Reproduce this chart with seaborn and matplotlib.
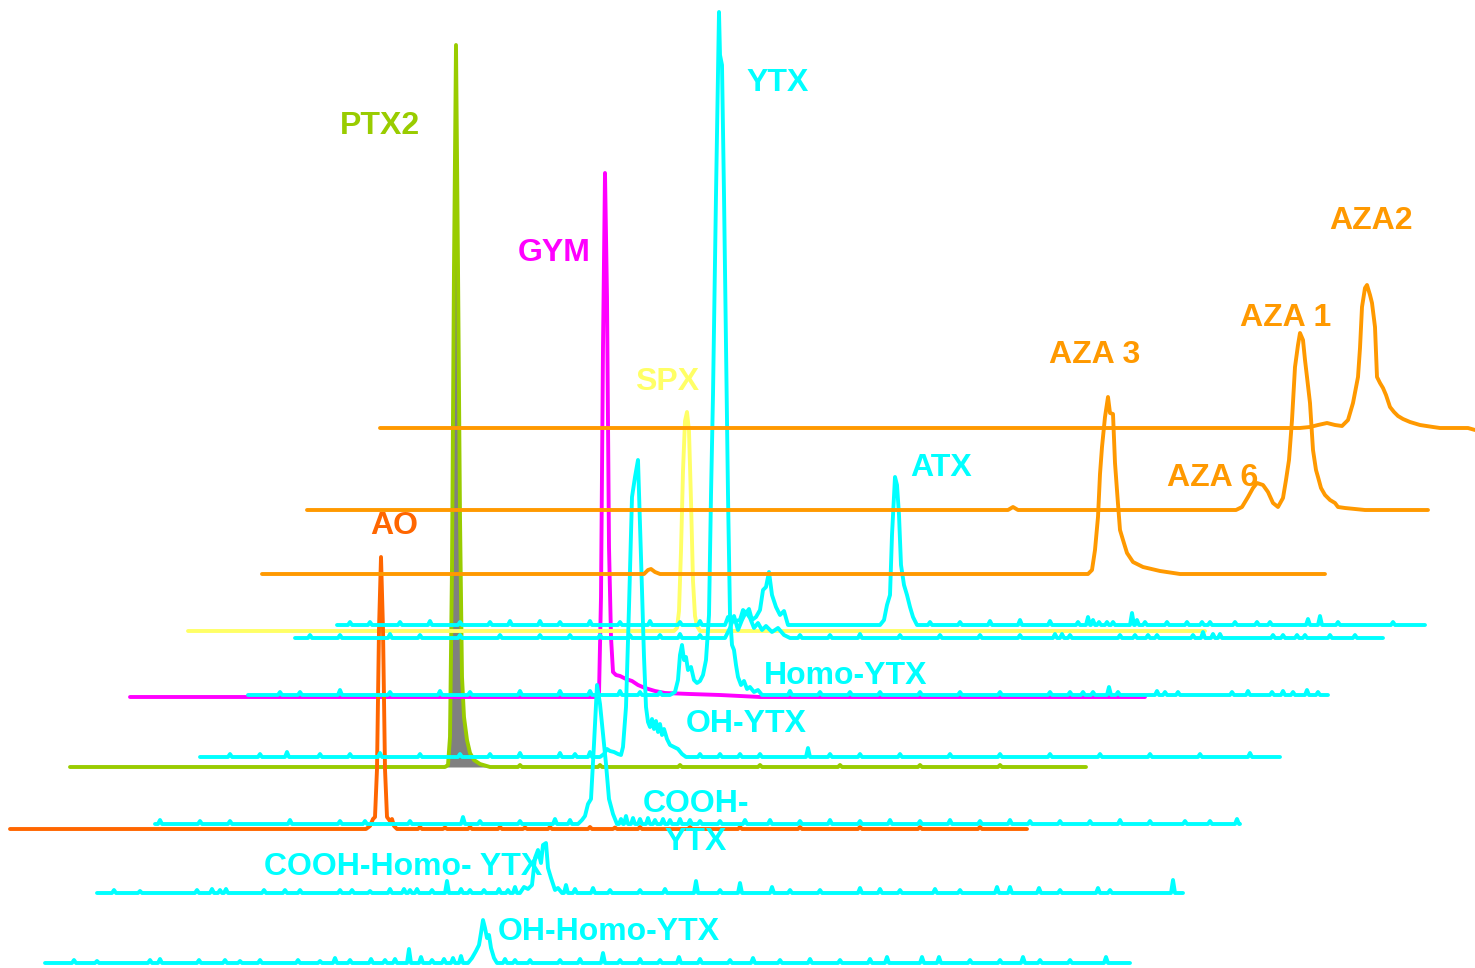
import matplotlib
matplotlib.use("Agg")
import matplotlib.pyplot as plt
import numpy as np
import pandas as pd
import seaborn as sns

sns.set_theme(style="white")
plt.rcParams["font.family"] = ["Liberation Sans", "DejaVu Sans"]

# ---------------------------------------------------------------------------
# Stacked chromatograms (waterfall). Each trace: colour, baseline offset,
# retention-axis extent, peak vertices (position, height above baseline) and
# small noise spikes (position, height).
# ---------------------------------------------------------------------------
CYAN = "#00FFFF"
AZA_ORANGE = "#FF9900"
AO_ORANGE = "#FF6600"
PTX_GREEN = "#99CC00"
GYM_MAGENTA = "#FF00FF"
SPX_YELLOW = "#FFFF66"

# --- OH-Homo-YTX ---
ohhomo_base = 5
ohhomo_span = (45, 1130)
ohhomo_peak_x = [468, 472, 476, 479, 481, 483, 485, 487, 489, 491, 494, 497]
ohhomo_peak_h = [0, 5, 12, 18, 30, 43, 35, 25, 28, 15, 5, 0]
ohhomo_spike_x = [74, 97, 150, 160, 199, 225, 240, 260, 298, 320, 335, 350, 371, 385, 395, 409, 421,
                  432, 444, 453, 461, 505, 515, 530, 560, 580, 603, 620, 640, 660, 679, 700, 730,
                  753, 780, 810, 840, 870, 887, 922, 939, 970, 1000, 1023, 1040, 1070, 1106]
ohhomo_spike_h = [3, 2, 3, 4, 3, 3, 2, 3, 3, 2, 5, 3, 4, 3, 4, 14, 6,
                  3, 4, 5, 7, 4, 3, 3, 3, 4, 10, 3, 4, 3, 6, 4, 3,
                  5, 3, 4, 3, 4, 6, 6, 6, 3, 3, 6, 3, 3, 6]

# --- COOH-Homo-YTX ---
coohhomo_base = 75
coohhomo_span = (97, 1183)
coohhomo_peak_x = [520, 524, 528, 532, 535, 538, 541, 543, 546, 548, 551, 555, 558, 562]
coohhomo_peak_h = [0, 6, 4, 8, 35, 43, 30, 48, 50, 25, 15, 3, 5, 0]
coohhomo_spike_x = [114, 140, 197, 212, 220, 226, 264, 285, 300, 340, 352, 370, 390, 404, 410, 417,
                    432, 447, 461, 470, 484, 499, 508, 515, 566, 575, 593, 610, 640, 665, 696, 720,
                    740, 772, 790, 820, 860, 880, 900, 935, 960, 997, 1010, 1039, 1060, 1098, 1110, 1173]
coohhomo_spike_h = [3, 2, 3, 4, 3, 4, 3, 3, 3, 3, 3, 2, 4, 4, 3, 4,
                    3, 12, 4, 3, 3, 4, 3, 6, 8, 4, 5, 3, 3, 4, 12, 3,
                    10, 6, 3, 3, 5, 4, 3, 4, 3, 6, 6, 5, 3, 5, 3, 13]

# --- AO ---
ao_base = 139
ao_span = (10, 1027)
ao_peak_x = [366, 370, 373, 375, 377, 379, 381, 383, 385, 387, 390, 392, 394, 397]
ao_peak_h = [0, 3, 10, 12, 60, 200, 272, 200, 60, 12, 8, 10, 3, 0]
ao_spike_x = [420, 445, 470, 500, 525, 550, 590, 615, 640, 690, 740, 800, 860, 920, 980]
ao_spike_h = [2, 1.5, 2, 2, 1.5, 2, 2, 1.5, 2, 2, 2, 2, 2, 2, 2]

# --- COOH-YTX ---
coohytx_base = 144
coohytx_span = (155, 1240)
coohytx_peak_x = [578, 582, 585, 588, 591, 594, 597, 600, 603, 606, 609, 613, 617]
coohytx_peak_h = [0, 4, 8, 20, 25, 80, 139, 120, 90, 60, 25, 10, 0]
coohytx_spike_x = [160, 200, 230, 290, 340, 365, 410, 463, 480, 520, 555, 570,
                   621, 626, 633, 640, 648, 655, 663, 670, 680, 690, 700, 720, 745, 770,
                   800, 830, 860, 890, 920, 950, 980, 1010, 1030, 1060, 1090, 1120,
                   1150, 1185, 1210, 1237]
coohytx_spike_h = [4, 3, 3, 4, 3, 3, 3, 7, 3, 3, 5, 4,
                   5, 8, 6, 5, 6, 4, 5, 4, 5, 4, 3, 3, 4, 4,
                   3, 4, 3, 4, 3, 4, 3, 4, 3, 3, 3, 4,
                   3, 3, 3, 5]

# --- PTX2 ---
ptx_base = 201
ptx_span = (70, 1086)
ptx_peak_x = [445, 448, 450, 452, 454, 456, 458, 460, 462, 464, 467, 470, 474, 480, 490]
ptx_peak_h = [0, 2, 30, 200, 500, 722, 500, 250, 90, 50, 27, 14, 7, 3, 0]
ptx_spike_x = [520, 600, 680, 760, 840, 920, 1000]
ptx_spike_h = [2, 2, 2, 2, 2, 2, 2]

# --- OH-YTX ---
ohytx_base = 211
ohytx_span = (200, 1280)
ohytx_peak_x = [600, 604, 607, 610, 614, 618, 621, 623, 626, 629, 632, 635, 638, 641, 644, 646,
                648, 650, 652, 654, 656, 658, 660, 662, 664, 667, 670, 674, 678, 682, 686]
ohytx_peak_h = [0, 3, 8, 6, 5, 3, 2, 10, 50, 150, 260, 280, 297, 200, 100, 50,
                35, 30, 38, 28, 36, 25, 33, 22, 28, 18, 12, 10, 8, 3, 0]
ohytx_spike_x = [230, 260, 287, 320, 350, 380, 420, 460, 490, 520, 560, 575, 590,
                 700, 720, 740, 760, 808, 830, 860, 900, 950, 1000, 1050, 1100, 1150, 1200, 1250]
ohytx_spike_h = [3, 3, 5, 3, 3, 4, 3, 3, 3, 4, 4, 3, 5,
                 3, 3, 3, 3, 9, 3, 3, 3, 3, 3, 3, 3, 3, 3, 4]

# --- GYM ---
gym_base = 271
gym_span = (130, 1145)
gym_peak_x = [596, 599, 601, 603, 605, 607, 609, 611, 613, 616, 620, 626, 632, 638, 645, 655,
              665, 690, 720, 760]
gym_peak_h = [0, 3, 100, 350, 524, 400, 150, 60, 25, 22, 21, 18, 16, 12, 9, 6,
              4, 3, 2, 0]

# --- Homo-YTX (with the YTX main peak) ---
homo_base = 273
homo_span = (248, 1328)
homo_peak_x = [670, 675, 678, 680, 682, 684, 686, 688, 691, 694, 697, 700, 703, 706, 709, 711,
               713, 716, 719, 720, 722, 724, 726, 728, 730, 732, 734, 736, 738, 741, 744, 747,
               750, 754, 758, 762]
homo_peak_h = [0, 3, 15, 40, 50, 35, 38, 25, 28, 15, 12, 14, 20, 35, 80, 200,
               300, 500, 683, 640, 630, 500, 350, 200, 80, 50, 45, 30, 18, 10, 14, 6,
               8, 3, 5, 0]
homo_spike_x = [280, 300, 340, 390, 440, 470, 520, 560, 590, 620, 640, 660,
                790, 820, 850, 880, 920, 960, 1000, 1050, 1070, 1083, 1093, 1109, 1118,
                1157, 1165, 1178, 1232, 1248, 1272, 1283, 1293, 1307, 1318]
homo_spike_h = [3, 3, 5, 3, 4, 3, 4, 4, 4, 4, 3, 3,
                4, 3, 3, 3, 3, 3, 3, 3, 3, 3, 3, 8, 3,
                4, 3, 3, 3, 4, 3, 4, 3, 5, 3]

# --- second YTX-channel trace ---
ytx2_base = 330
ytx2_span = (295, 1383)
ytx2_peak_x = [725, 730, 734, 738, 742, 746, 750, 754, 758, 762, 766, 772, 778, 784, 790]
ytx2_peak_h = [0, 10, 22, 8, 18, 26, 20, 10, 15, 8, 12, 6, 10, 3, 0]
ytx2_spike_x = [310, 340, 390, 420, 460, 500, 540, 570, 600, 630, 660, 680, 700,
                800, 830, 860, 900, 940, 980, 1020, 1055, 1062, 1070, 1120, 1135, 1148,
                1157, 1193, 1203, 1213, 1220, 1273, 1283, 1297, 1305, 1330, 1355]
ytx2_spike_h = [3, 3, 4, 3, 3, 3, 3, 3, 3, 3, 3, 4, 3,
                3, 3, 4, 3, 3, 3, 3, 4, 4, 3, 3, 3, 3,
                3, 3, 6, 4, 4, 3, 3, 3, 3, 3, 3]

# --- SPX ---
spx_base = 337
spx_span = (188, 1205)
spx_peak_x = [674, 677, 679, 681, 683, 685, 687, 689, 691, 693, 695, 697, 700]
spx_peak_h = [0, 3, 20, 80, 160, 210, 219, 200, 130, 50, 15, 5, 0]

# --- ATX trace (top YTX channel) ---
atx_base = 343
atx_span = (337, 1425)
atx_peak_x = [725, 728, 731, 740, 743, 746, 749, 752, 756, 760, 763, 766, 769, 772, 776, 780,
              784, 788, 880, 884, 887, 890, 892, 895, 897, 899, 901, 904, 907, 910, 913, 917]
atx_peak_h = [0, 8, 3, 5, 15, 12, 16, 5, 8, 15, 35, 38, 53, 30, 18, 10,
              14, 0, 0, 5, 20, 30, 90, 148, 140, 110, 60, 40, 30, 18, 8, 0]
atx_spike_x = [350, 370, 400, 430, 460, 490, 510, 540, 560, 590, 620, 650, 680, 700,
               930, 960, 990, 1020, 1050, 1078, 1088, 1093, 1099, 1107, 1113, 1132, 1137,
               1145, 1167, 1187, 1202, 1210, 1235, 1257, 1270, 1308, 1320, 1338, 1393]
atx_spike_h = [3, 3, 3, 4, 3, 3, 4, 4, 3, 4, 3, 4, 3, 4,
               3, 3, 4, 5, 4, 3, 8, 5, 3, 3, 3, 12, 5,
               3, 3, 3, 3, 3, 3, 3, 3, 6, 9, 3, 3]

# --- AZA 3 ---
aza3_base = 394
aza3_span = (262, 1325)
aza3_peak_x = [644, 648, 651, 655, 660, 1088, 1092, 1095, 1098, 1100, 1102, 1105, 1108, 1110,
               1113, 1115, 1118, 1120, 1123, 1127, 1133, 1143, 1160, 1180]
aza3_peak_h = [0, 4, 5, 2, 0, 0, 4, 24, 57, 100, 127, 157, 177, 161,
               160, 111, 70, 44, 34, 21, 12, 7, 3, 0]

# --- AZA 6 / AZA 1 ---
aza1_base = 458
aza1_span = (307, 1428)
aza1_peak_x = [1008, 1013, 1018, 1236, 1242, 1248, 1253, 1257, 1263, 1268, 1273, 1278, 1283,
               1286, 1289, 1292, 1295, 1298, 1300, 1303, 1305, 1307, 1310, 1313, 1316, 1318,
               1321, 1325, 1330, 1335, 1338, 1345, 1365]
aza1_peak_h = [0, 3, 0, 0, 3, 13, 22, 27, 25, 18, 7, 3, 12,
               30, 50, 90, 143, 165, 177, 170, 150, 133, 107, 60, 40, 33,
               22, 15, 10, 7, 3, 2, 0]

# --- AZA2 ---
aza2_base = 540
aza2_span = (380, 1475)
aza2_peak_x = [1230, 1300, 1310, 1318, 1327, 1335, 1342, 1348, 1353, 1358, 1360, 1362, 1365,
               1367, 1370, 1372, 1375, 1377, 1380, 1383, 1386, 1390, 1394, 1398, 1403, 1410,
               1420, 1433, 1440, 1468, 1475]
aza2_peak_h = [0, 0, 1, 3, 5, 3, 2, 8, 25, 51, 80, 121, 140,
               143, 133, 125, 101, 51, 45, 40, 33, 21, 16, 12, 9, 6,
               3, 1, 0, 0, -2]

# Compound labels: text, colour, centre position
label_text = ["PTX2", "GYM", "YTX", "SPX", "AZA2", "AZA 1", "AZA 3", "AZA 6", "ATX", "AO",
              "Homo-YTX", "OH-YTX", "COOH-\nYTX", "COOH-Homo- YTX", "OH-Homo-YTX"]
label_color = [PTX_GREEN, GYM_MAGENTA, CYAN, SPX_YELLOW, AZA_ORANGE, AZA_ORANGE, AZA_ORANGE,
               AZA_ORANGE, CYAN, AO_ORANGE, CYAN, CYAN, CYAN, CYAN, CYAN]
label_x = [380, 554, 778, 667, 1371, 1286, 1095, 1213, 941, 394, 846, 746, 696, 403, 609]
label_y = [842, 715, 885, 586, 747, 650, 613, 490, 500, 442, 292, 244, 145, 101, 36]


def build_trace(span, base, peak_x, peak_h, spike_x=(), spike_h=()):
    """Assemble the polyline of one chromatogram from its vertex lists."""
    pts = {float(span[0]): 0.0, float(span[1]): 0.0}
    for x, h in zip(peak_x, peak_h):
        pts[float(x)] = float(h)
    for x, h in zip(spike_x, spike_h):
        pts.setdefault(x - 2.0, 0.0)
        pts[float(x)] = float(h)
        pts.setdefault(x + 2.0, 0.0)
    xs = sorted(pts)
    return pd.DataFrame({"rt": xs, "signal": [base + pts[k] for k in xs]})


traces = [
    # (frame, colour, zorder)
    (build_trace(ptx_span, ptx_base, ptx_peak_x, ptx_peak_h, ptx_spike_x, ptx_spike_h), PTX_GREEN, 2),
    (build_trace(gym_span, gym_base, gym_peak_x, gym_peak_h), GYM_MAGENTA, 3),
    (build_trace(spx_span, spx_base, spx_peak_x, spx_peak_h), SPX_YELLOW, 4),
    (build_trace(ao_span, ao_base, ao_peak_x, ao_peak_h, ao_spike_x, ao_spike_h), AO_ORANGE, 5),
    (build_trace(ohhomo_span, ohhomo_base, ohhomo_peak_x, ohhomo_peak_h, ohhomo_spike_x, ohhomo_spike_h), CYAN, 6),
    (build_trace(coohhomo_span, coohhomo_base, coohhomo_peak_x, coohhomo_peak_h, coohhomo_spike_x, coohhomo_spike_h), CYAN, 6),
    (build_trace(coohytx_span, coohytx_base, coohytx_peak_x, coohytx_peak_h, coohytx_spike_x, coohytx_spike_h), CYAN, 6),
    (build_trace(ohytx_span, ohytx_base, ohytx_peak_x, ohytx_peak_h, ohytx_spike_x, ohytx_spike_h), CYAN, 6),
    (build_trace(homo_span, homo_base, homo_peak_x, homo_peak_h, homo_spike_x, homo_spike_h), CYAN, 6),
    (build_trace(ytx2_span, ytx2_base, ytx2_peak_x, ytx2_peak_h, ytx2_spike_x, ytx2_spike_h), CYAN, 6),
    (build_trace(atx_span, atx_base, atx_peak_x, atx_peak_h, atx_spike_x, atx_spike_h), CYAN, 6),
    (build_trace(aza3_span, aza3_base, aza3_peak_x, aza3_peak_h), AZA_ORANGE, 7),
    (build_trace(aza1_span, aza1_base, aza1_peak_x, aza1_peak_h), AZA_ORANGE, 7),
    (build_trace(aza2_span, aza2_base, aza2_peak_x, aza2_peak_h), AZA_ORANGE, 7),
]

fig = plt.figure(figsize=(14.75, 9.68), dpi=100)
ax = fig.add_axes([0, 0, 1, 1])
ax.set_xlim(0, 1475)
ax.set_ylim(0, 968)
ax.axis("off")

# grey area under the PTX2 peak
ptx_df = traces[0][0]
peak_zone = ptx_df[(ptx_df.rt >= ptx_peak_x[0]) & (ptx_df.rt <= ptx_peak_x[-1])]
ax.fill_between(peak_zone.rt, ptx_base, peak_zone.signal, color="#808080", lw=0, zorder=1.5)

for df, colour, z in traces:
    sns.lineplot(data=df, x="rt", y="signal", color=colour, linewidth=2.8,
                 sort=False, estimator=None, ax=ax, zorder=z,
                 solid_joinstyle="round", solid_capstyle="round")

for txt, col, x, y in zip(label_text, label_color, label_x, label_y):
    ax.text(x, y, txt, color=col, fontsize=23, fontweight="bold",
            ha="center", va="center", linespacing=1.32, zorder=10)

ax.set_xlabel("")
ax.set_ylabel("")
fig.savefig("out.png", dpi=100, facecolor="white")
